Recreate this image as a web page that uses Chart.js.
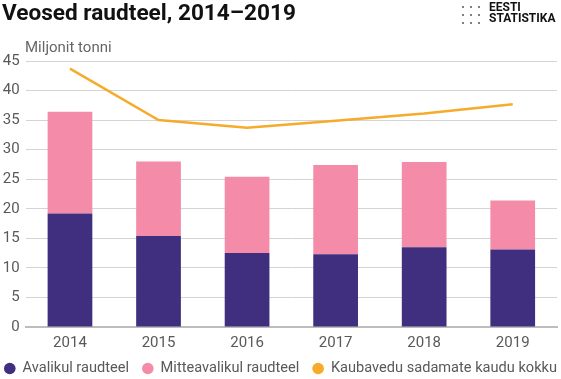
<!DOCTYPE html>
<html>
<head>
<meta charset="utf-8">
<script src="https://cdn.jsdelivr.net/npm/chart.js@4"></script>
<style>
  html, body { margin: 0; padding: 0; background: #fff; }
  #wrap { position: relative; width: 561px; height: 379px; overflow: hidden; font-family: Roboto, "Noto Sans", sans-serif; }
  #title { position: absolute; left: 2px; top: -1px; font-size: 22.6px; font-weight: bold; color: #111; white-space: nowrap; }
  #logo { position: absolute; left: 459px; top: 2px; width: 102px; height: 22px; }
  #logo .dot { position: absolute; width: 2px; height: 2px; background: #555; border-radius: 1px; }
  #logo .txt { position: absolute; left: 30px; top: 0px; font-size: 12px; font-weight: bold; line-height: 10.5px; color: #111; }
  #unit { position: absolute; left: 25px; top: 38px; font-size: 15px; color: #666; white-space: nowrap; }
  #c { position: absolute; left: 0; top: 0; }
</style>
</head>
<body>
<div id="wrap">
  <canvas id="c" width="561" height="379"></canvas>
  <div id="title">Veosed raudteel, 2014–2019</div>
  <div id="logo">
    <div class="dot" style="left:3px;top:4px"></div><div class="dot" style="left:11px;top:4px"></div><div class="dot" style="left:19px;top:4px"></div>
    <div class="dot" style="left:3px;top:12px"></div><div class="dot" style="left:11px;top:12px"></div><div class="dot" style="left:19px;top:12px"></div>
    <div class="dot" style="left:3px;top:20px"></div><div class="dot" style="left:11px;top:20px"></div><div class="dot" style="left:19px;top:20px"></div>
    <div class="txt">EESTI<br>STATISTIKA</div>
  </div>
  <div id="unit">Miljonit tonni</div>
</div>
<script>
const years = ['2014', '2015', '2016', '2017', '2018', '2019'];
const publicRail = [19.2, 15.4, 12.5, 12.3, 13.5, 13.1];
const nonPublicRail = [17.2, 12.6, 12.9, 15.1, 14.4, 8.3];
const portsTotal = [43.7, 35.0, 33.7, 34.9, 36.1, 37.7];
const seriesNames = ['Avalikul raudteel', 'Mitteavalikul raudteel', 'Kaubavedu sadamate kaudu kokku'];
const yTicks = [0, 5, 10, 15, 20, 25, 30, 35, 40, 45];

const FONT = 'Roboto, "Noto Sans", sans-serif';
const TEXT = '#595959';

// Legend drawn on the canvas from the chart's own datasets, in one centred row
const rowLegend = {
  id: 'rowLegend',
  afterDraw(chart) {
    const ctx = chart.ctx;
    const items = chart.data.datasets.map(ds => ({ label: ds.label, color: ds.type === 'line' ? ds.borderColor : ds.backgroundColor }));
    ctx.save();
    ctx.font = '14.6px ' + FONT;
    const r = 5.8, gapText = 7, gapItem = 13;
    const widths = items.map(it => 2 * r + gapText + ctx.measureText(it.label).width);
    const total = widths.reduce((a, b) => a + b, 0) + gapItem * (items.length - 1);
    let x = Math.max(2, (chart.width - total) / 2);
    const y = 368.5;
    items.forEach((it, i) => {
      ctx.beginPath();
      ctx.fillStyle = it.color;
      ctx.arc(x + r, y, r, 0, Math.PI * 2);
      ctx.fill();
      ctx.fillStyle = TEXT;
      ctx.textBaseline = 'middle';
      ctx.textAlign = 'left';
      ctx.fillText(it.label, x + 2 * r + gapText, y);
      x += widths[i] + gapItem;
    });
    ctx.restore();
  }
};

new Chart(document.getElementById('c'), {
  data: {
    labels: years,
    datasets: [
      { type: 'bar', label: seriesNames[0], data: publicRail, backgroundColor: '#402e7e', borderWidth: 0, stack: 's', order: 1, categoryPercentage: 1, barPercentage: 0.505 },
      { type: 'bar', label: seriesNames[1], data: nonPublicRail, backgroundColor: '#f48ca9', borderWidth: 0, stack: 's', order: 1, categoryPercentage: 1, barPercentage: 0.505 },
      { type: 'line', label: seriesNames[2], data: portsTotal, borderColor: '#f6ab2b', backgroundColor: '#f6ab2b', borderWidth: 2.5, pointRadius: 0, tension: 0, fill: false, order: 0 }
    ]
  },
  plugins: [rowLegend],
  options: {
    responsive: false,
    animation: false,
    layout: { padding: { top: 61, left: 2, right: 4, bottom: 28 } },
    plugins: {
      tooltip: { enabled: false },
      title: { display: false },
      legend: { display: false }
    },
    scales: {
      x: {
        stacked: true,
        grid: { display: false },
        border: { display: true, color: '#bdbdbd', width: 2 },
        ticks: { color: TEXT, font: { family: FONT, size: 15 }, padding: -1 }
      },
      y: {
        stacked: true,
        min: 0,
        max: 45,
        afterBuildTicks: (axis) => { axis.ticks = yTicks.map(v => ({ value: v })); },
        afterFit: (axis) => { axis.width = 23.7; },
        grid: { color: '#d4d4d4', lineWidth: 1, drawTicks: false },
        border: { display: false },
        ticks: { color: TEXT, font: { family: FONT, size: 15 }, padding: 6 }
      }
    }
  }
});
</script>
</body>
</html>
